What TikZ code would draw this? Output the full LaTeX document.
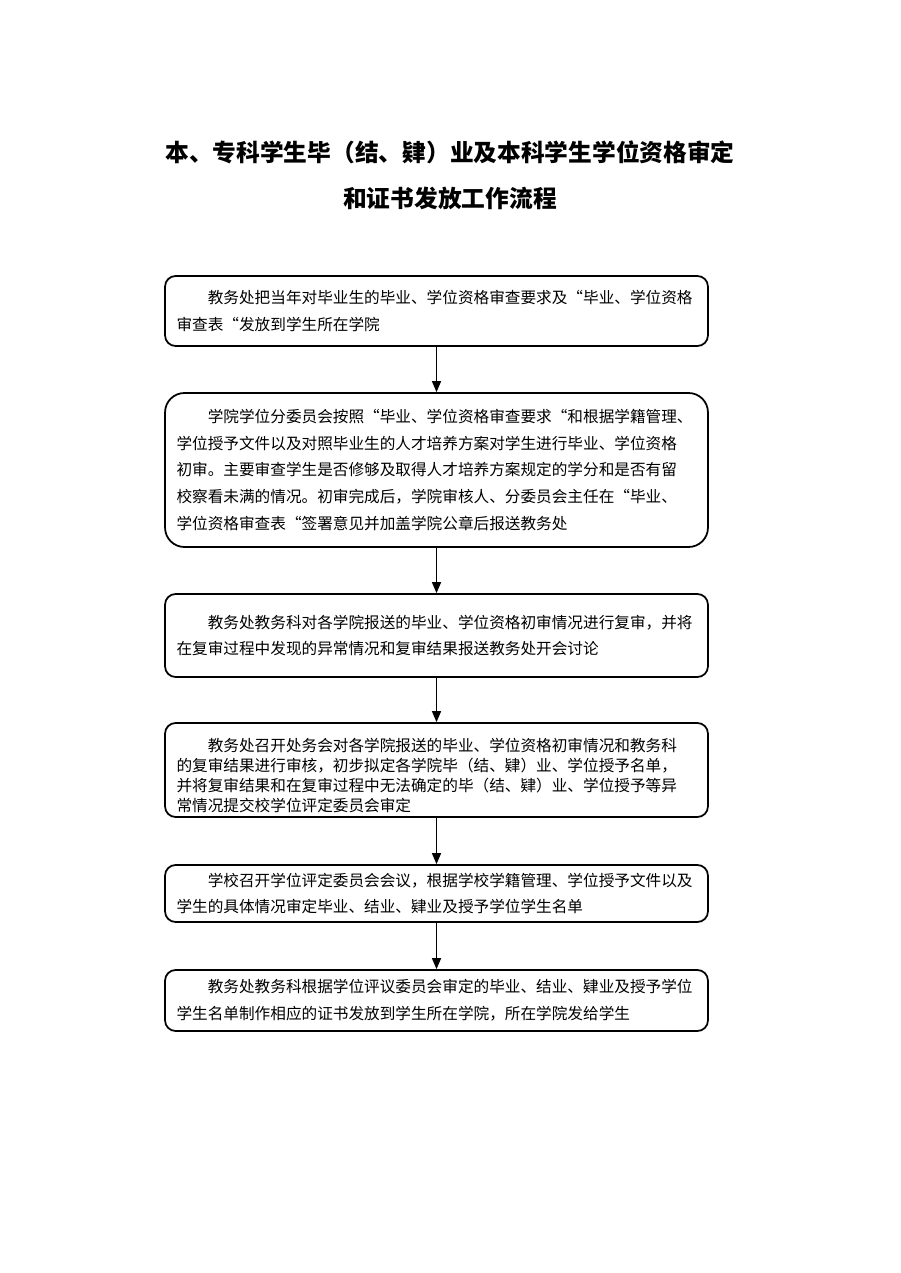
\documentclass[tikz,border=0pt]{standalone}
\usepackage{fontspec}
\setmainfont{Noto Sans CJK SC}
\usetikzlibrary{arrows.meta,positioning}

\begin{document}
\begin{tikzpicture}[
  x=0.02cm, y=-0.02cm,
  every node/.style={inner sep=0pt},
  ttl/.style={font=\fontsize{13.5pt}{16pt}\selectfont\bfseries},
  box/.style={
    draw=black, rounded corners=6pt, line width=1pt,
    minimum width=10.86cm, text width=10.4cm,
    align=left, font=\fontsize{8.9pt}{15.3pt}\selectfont,
  },
  flow/.style={-{Triangle[length=2.2mm, width=1.8mm]}, line width=0.8pt, draw=black},
]
\useasboundingbox (0,0) rectangle (900,1273);

% ===== TITLE =====
\node[ttl] (title1) at (450,152) {本、专科学生毕（结、肄）业及本科学生学位资格审定};
\node[ttl] (title2) at (450,198) {和证书发放工作流程};

% ===== STEP 1 =====
\node[box, minimum height=1.4cm] (issue) at (436.5,311) {%
  \hspace*{2em}教务处把当年对毕业生的毕业、学位资格审查要求及“毕业、学位资格\\
  审查表“发放到学生所在学院};

% ===== STEP 2 =====
\node[box, minimum height=3.08cm, rounded corners=11pt] (prelim) at (436.5,470) {%
  \hspace*{2em}学院学位分委员会按照“毕业、学位资格审查要求“和根据学籍管理、\\
  学位授予文件以及对照毕业生的人才培养方案对学生进行毕业、学位资格\\
  初审。主要审查学生是否修够及取得人才培养方案规定的学分和是否有留\\
  校察看未满的情况。初审完成后，学院审核人、分委员会主任在“毕业、\\
  学位资格审查表“签署意见并加盖学院公章后报送教务处};

% ===== STEP 3 =====
\node[box, minimum height=1.66cm] (review) at (436.5,635.5) {%
  \hspace*{2em}教务处教务科对各学院报送的毕业、学位资格初审情况进行复审，并将\\
  在复审过程中发现的异常情况和复审结果报送教务处开会讨论};

% ===== STEP 4 =====
\node[box, minimum height=1.88cm, font=\fontsize{8.9pt}{11.4pt}\selectfont] (office) at (436.5,770) {%
  \rule{0pt}{14pt}\hspace*{2em}教务处召开处务会对各学院报送的毕业、学位资格初审情况和教务科\\
  的复审结果进行审核，初步拟定各学院毕（结、肄）业、学位授予名单，\\
  并将复审结果和在复审过程中无法确定的毕（结、肄）业、学位授予等异\\
  常情况提交校学位评定委员会审定};

% ===== STEP 5 =====
\node[box, minimum height=1.14cm] (council) at (436.5,893.5) {%
  \hspace*{2em}学校召开学位评定委员会会议，根据学校学籍管理、学位授予文件以及\\
  学生的具体情况审定毕业、结业、肄业及授予学位学生名单};

% ===== STEP 6 =====
\node[box, minimum height=1.22cm] (cert) at (436.5,1000.5) {%
  \hspace*{2em}教务处教务科根据学位评议委员会审定的毕业、结业、肄业及授予学位\\
  学生名单制作相应的证书发放到学生所在学院，所在学院发给学生};

% ===== ARROWS =====
\draw[flow] (issue.south) -- (prelim.north);
\draw[flow] (prelim.south) -- (review.north);
\draw[flow] (review.south) -- (office.north);
\draw[flow] (office.south) -- (council.north);
\draw[flow] (council.south) -- (cert.north);

\end{tikzpicture}
\end{document}
